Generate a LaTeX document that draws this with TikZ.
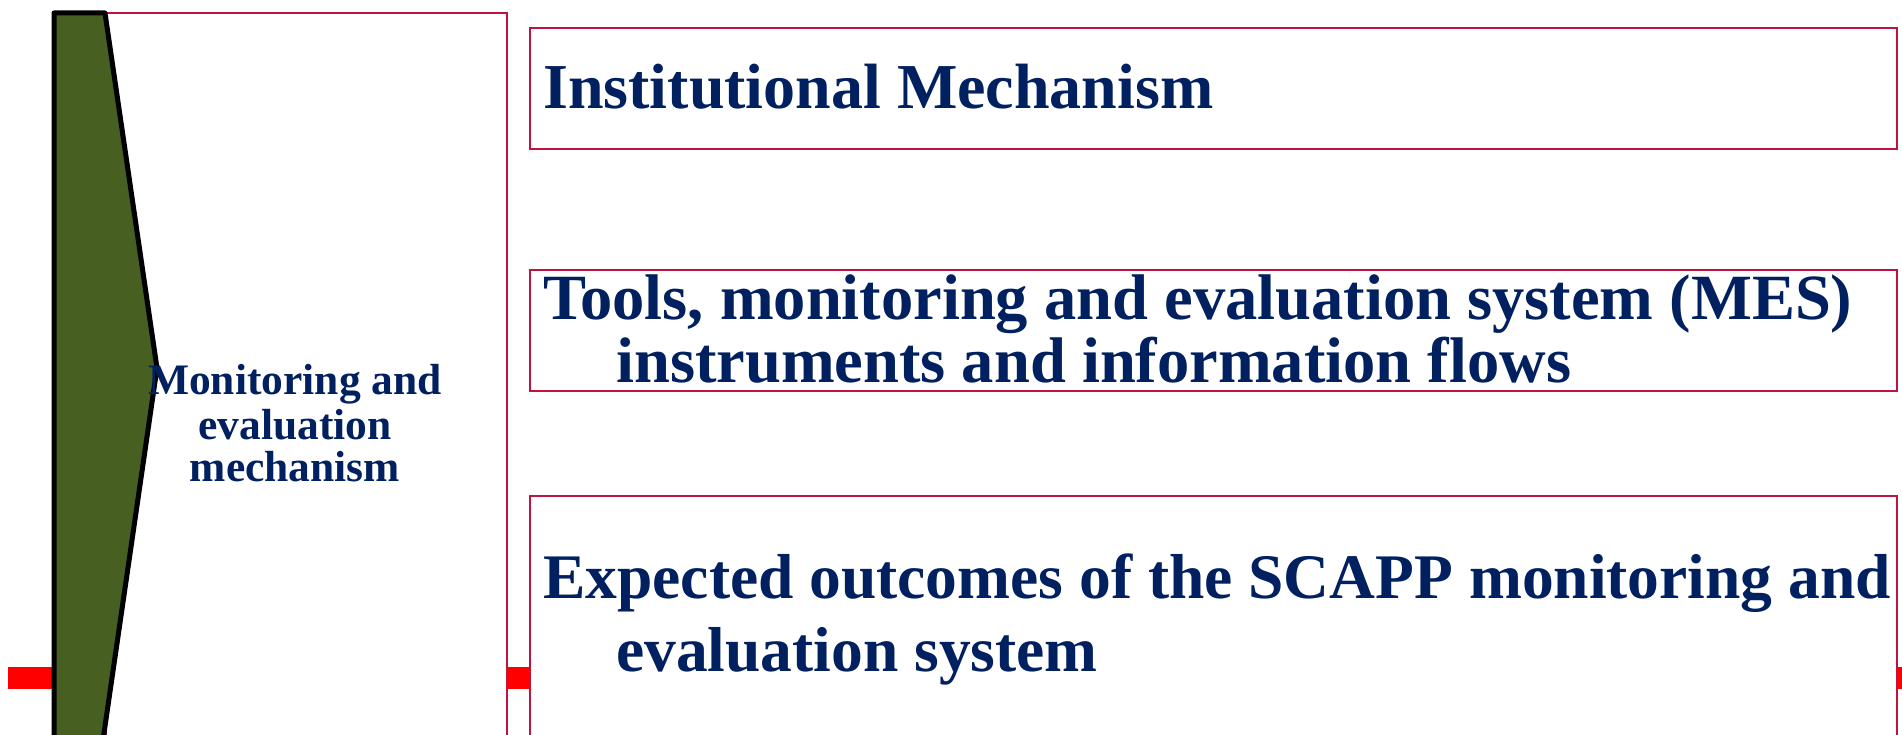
\documentclass[tikz,border=0pt]{standalone}
\usepackage{fontspec}
\setmainfont{Liberation Serif}
\definecolor{navy}{HTML}{002060}
\definecolor{crim}{HTML}{BE1540}
\definecolor{olivegreen}{HTML}{476021}
\tikzset{
  box/.style={draw=crim, line width=2pt, fill=white, inner sep=0pt},
  bigtxt/.style={text=navy, font=\fontsize{64}{64}\selectfont\bfseries, inner sep=0pt, anchor=base west},
  lefttxt/.style={text=navy, font=\fontsize{43.5}{43.5}\selectfont\bfseries, inner sep=0pt, anchor=base},
  chev/.style={draw=black, line width=5pt, fill=olivegreen, line join=round}
}
\begin{document}
\begin{tikzpicture}[x=1pt,y=-1pt]
\useasboundingbox (0,0) rectangle (1902,735);
\clip (0,0) rectangle (1902,735);
\fill[white] (0,0) rectangle (1902,735);
% red bar
\fill[red] (8,667) rectangle (1902,689);
% big rectangle
\draw[box] (106,13) rectangle (507,850);
% chevron
\draw[chev] (54,13) -- (105,13) -- (157,368) -- (103,740) -- (54,740) -- cycle;
% left text
\node[lefttxt] (l1) at (295,394) {Monitoring and};
\node[lefttxt] (l2) at (295,439) {evaluation};
\node[lefttxt] (l3) at (295,481) {mechanism};
% right boxes
\draw[box] (530,28) rectangle (1897,149);
\draw[box] (530,270) rectangle (1897,391);
\draw[box] (530,496) rectangle (1897,800);
\node[bigtxt] (t1) at (543,109) {Institutional Mechanism};
\node[bigtxt, font=\fontsize{64.5}{64.5}\selectfont\bfseries] (t2a) at (543,319) {Tools, monitoring and evaluation system (MES)};
\node[bigtxt, font=\fontsize{64.5}{64.5}\selectfont\bfseries] (t2b) at (616,382) {instruments and information flows};
\node[bigtxt, font=\fontsize{63.5}{63.5}\selectfont\bfseries] (t3a) at (543,598) {Expected outcomes of the SCAPP monitoring and};
\node[bigtxt, font=\fontsize{63.5}{63.5}\selectfont\bfseries] (t3b) at (616,671) {evaluation system};
\end{tikzpicture}
\end{document}
